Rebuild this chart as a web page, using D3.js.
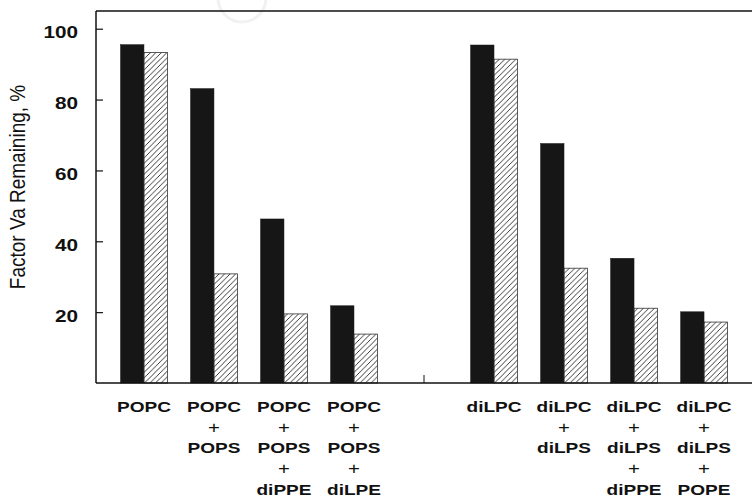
<!DOCTYPE html>
<html>
<head>
<meta charset="utf-8">
<script src="https://cdn.jsdelivr.net/npm/d3@7"></script>
<style>
  html, body { margin: 0; padding: 0; background: #fff; }
  svg { display: block; }
</style>
</head>
<body>
<svg id="chart" width="752" height="502"></svg>
<script>
// ---- data ----
const categories = [
  "POPC",
  "POPC + POPS",
  "POPC + POPS + diPPE",
  "POPC + POPS + diLPE",
  "diLPC",
  "diLPC + diLPS",
  "diLPC + diLPS + diPPE",
  "diLPC + diLPS + POPE"
];
const seriesNames = ["solid", "hatched"];
const solidValues   = [95.5, 83.1, 46.3, 21.8, 95.4, 67.6, 35.2, 20.1];
const hatchedValues = [93.3, 30.8, 19.5, 13.8, 91.4, 32.4, 21.1, 17.2];
const yTicks = [20, 40, 60, 80, 100];
const yLabel = "Factor Va Remaining, %";
const gapKey = "gap";

// ---- layout ----
const svg = d3.select("#chart");
const plotLeft = 96, plotRight = 752, plotTop = 11, plotBottom = 383;
const slots = [...categories.slice(0, 4), gapKey, ...categories.slice(4)];

const x = d3.scaleBand().domain(slots).range([plotLeft, plotRight])
  .paddingInner(0.33).paddingOuter(0.35);
const xInner = d3.scaleBand().domain(seriesNames).range([0, x.bandwidth()]);
const y = d3.scaleLinear().domain([0, 105]).range([plotBottom, plotTop]);

const rows = categories.map((c, i) => ({
  cat: c,
  values: [
    { key: "solid", value: solidValues[i] },
    { key: "hatched", value: hatchedValues[i] }
  ]
}));

// hatch pattern
const defs = svg.append("defs");
const pat = defs.append("pattern").attr("id", "hatch")
  .attr("patternUnits", "userSpaceOnUse").attr("width", 5.5).attr("height", 5.5);
pat.append("path").attr("d", "M-1,1 l2,-2 M0,5.5 l5.5,-5.5 M4.5,6.5 l2,-2")
  .attr("stroke", "#222").attr("stroke-width", 0.9).attr("fill", "none");

// faint watermark
svg.append("circle").attr("cx", 242).attr("cy", -2).attr("r", 24)
  .attr("fill", "none").attr("stroke", "#f1f1f1").attr("stroke-width", 3);

// bars
const groups = svg.append("g").selectAll("g").data(rows).join("g")
  .attr("transform", d => `translate(${x(d.cat)},0)`);
groups.selectAll("rect").data(d => d.values).join("rect")
  .attr("x", d => xInner(d.key))
  .attr("y", d => y(d.value))
  .attr("width", xInner.bandwidth())
  .attr("height", d => y(0) - y(d.value))
  .attr("fill", d => d.key === "solid" ? "#161616" : "url(#hatch)")
  .attr("stroke", d => d.key === "solid" ? "#161616" : "#333")
  .attr("stroke-width", d => d.key === "solid" ? 0.5 : 0.8);

// y axis ticks (inward)
const yAxis = d3.axisLeft(y).tickValues(yTicks).tickSizeInner(-7).tickSizeOuter(0).tickPadding(0);
const yg = svg.append("g").attr("transform", `translate(${plotLeft},0)`).call(yAxis);
yg.select(".domain").remove();
yg.selectAll(".tick line").attr("stroke", "#111").attr("stroke-width", 1.2);
yg.selectAll(".tick text")
  .attr("x", null).attr("dy", null)
  .attr("transform", "translate(-18,9) scale(1.22,1)")
  .attr("text-anchor", "end")
  .attr("font-family", "'Liberation Sans', Arial, sans-serif")
  .attr("font-size", 17)
  .attr("font-weight", "bold")
  .attr("fill", "#111");

// frame
const frame = svg.append("g").attr("stroke", "#111").attr("fill", "none");
frame.append("line").attr("x1", plotLeft).attr("x2", plotLeft).attr("y1", plotTop).attr("y2", plotBottom).attr("stroke-width", 1.5);
frame.append("line").attr("x1", plotLeft).attr("x2", plotRight).attr("y1", plotTop).attr("y2", plotTop).attr("stroke-width", 1.6);
frame.append("line").attr("x1", plotLeft).attr("x2", plotRight).attr("y1", plotBottom).attr("y2", plotBottom).attr("stroke-width", 1.6);
// tick at the gap slot
frame.append("line")
  .attr("x1", x(gapKey) + x.bandwidth() / 2).attr("x2", x(gapKey) + x.bandwidth() / 2)
  .attr("y1", plotBottom).attr("y2", plotBottom - 8).attr("stroke-width", 1);

// y label
svg.append("text")
  .attr("transform", "translate(25,187) rotate(-90) scale(1,1.15)")
  .attr("text-anchor", "middle")
  .attr("font-family", "'Liberation Sans', Arial, sans-serif")
  .attr("font-size", 19)
  .attr("fill", "#111")
  .text(yLabel);

// category labels
const lineY = [412, 432.5, 453, 474, 495];
const labelG = svg.append("g")
  .attr("font-family", "'Liberation Sans', Arial, sans-serif")
  .attr("font-size", 15)
  .attr("font-weight", "bold")
  .attr("fill", "#111");
categories.forEach(c => {
  const parts = c.split(" + ");
  const lines = [];
  parts.forEach((p, i) => { if (i > 0) lines.push("+"); lines.push(p); });
  const cx = x(c) + x.bandwidth() / 2;
  lines.forEach((t, i) => {
    labelG.append("text")
      .attr("transform", `translate(${cx},${lineY[i]}) scale(1.27,1)`)
      .attr("text-anchor", "middle")
      .attr("font-size", t === "+" ? 16 : 15)
      .attr("font-weight", t === "+" ? "normal" : "bold")
      .text(t);
  });
});
</script>
</body>
</html>
